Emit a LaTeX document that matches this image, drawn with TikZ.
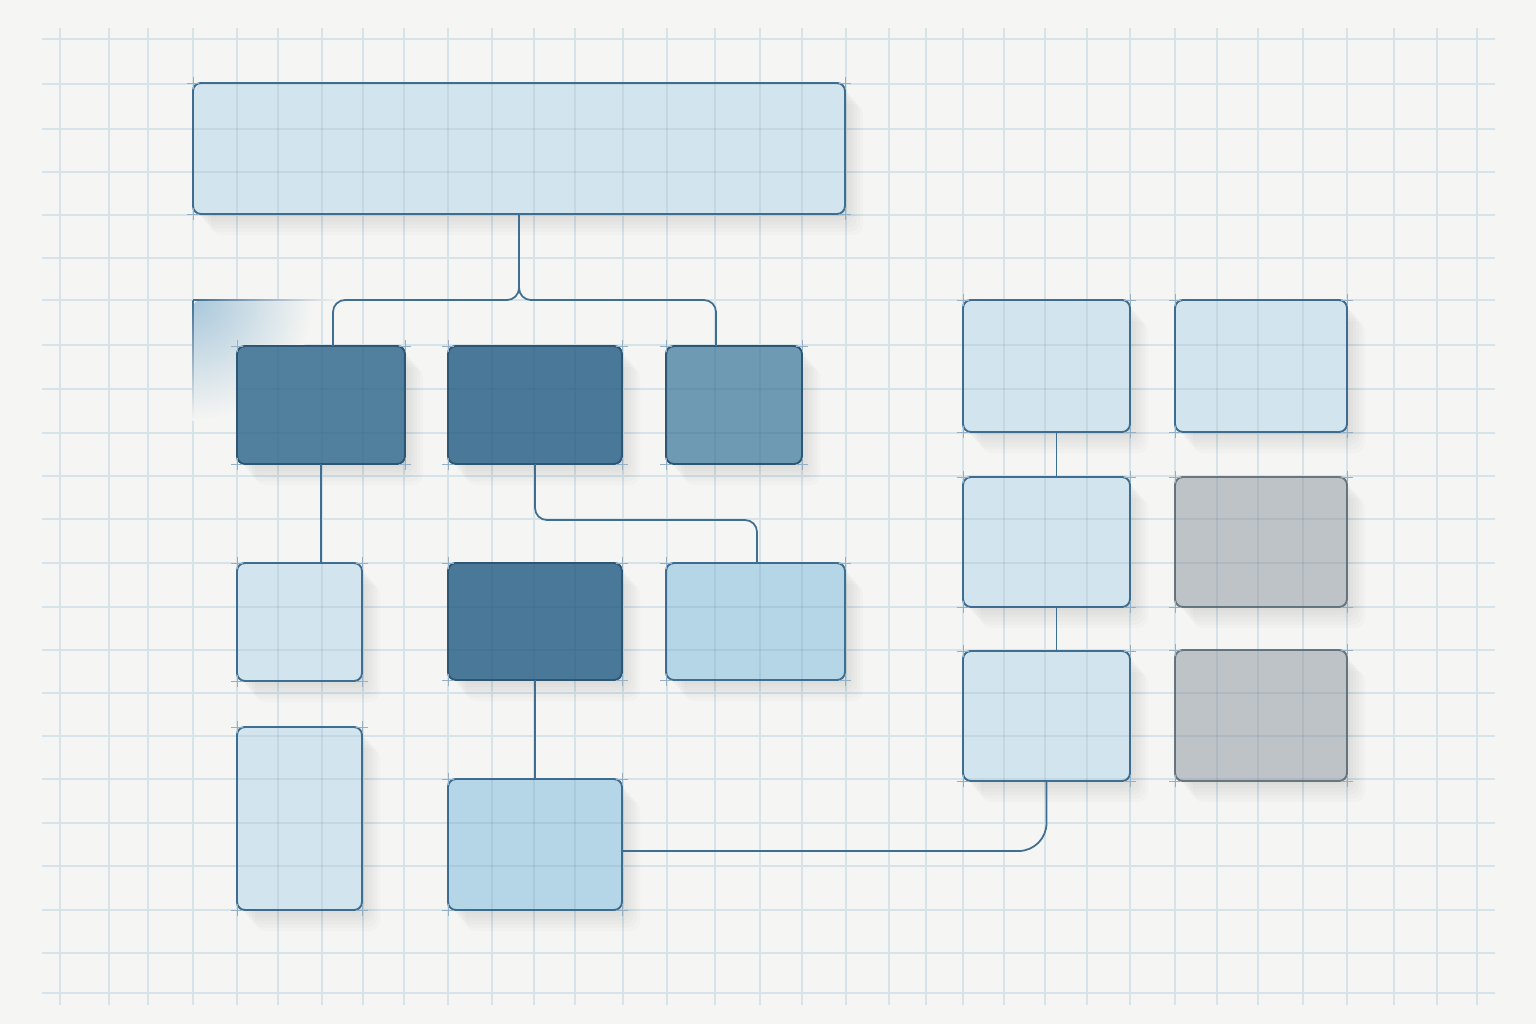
\documentclass[tikz,border=0pt]{standalone}

\definecolor{paper}{HTML}{F5F5F3}
\definecolor{gridcol}{HTML}{D6E4E9}
\definecolor{edge}{HTML}{3F6E93}
\definecolor{darkedge}{HTML}{2D5574}
\definecolor{pale}{HTML}{D2E5EF}
\definecolor{sky}{HTML}{B5D6E7}
\definecolor{deepA}{HTML}{51809F}
\definecolor{deepB}{HTML}{4A7898}
\definecolor{midblue}{HTML}{6E9AB4}
\definecolor{stone}{HTML}{BEC3C7}
\definecolor{stoneedge}{HTML}{69767F}
\definecolor{ghost}{HTML}{A9C8DB}

\pgfdeclarelayer{sheet}
\pgfdeclarelayer{shade}
\pgfsetlayers{sheet,shade,main}

% grid lines at the positions of the sheet
\newcommand\gridpass[1]{%
  \foreach \gx in {0.60,1.09,1.48,1.93,2.37,2.78,3.22,3.63,4.04,4.48,4.92,5.34,5.75,6.23,6.67,7.15,7.60,8.02,8.46,8.89,9.26,9.63,10.04,10.45,10.87,11.30,11.75,12.17,12.58,13.03,13.47,13.94,14.37,14.77}
    \draw[#1] (\gx,0.28) -- (\gx,10.05);
  \foreach \gy in {0.39,0.84,1.29,1.72,2.15,2.58,3.00,3.45,3.89,4.33,4.76,5.19,5.63,6.07,6.50,6.93,7.36,7.79,8.23,8.66,9.10,9.53,9.93}
    \draw[#1] (0.42,\gy) -- (14.95,\gy);
}

\begin{document}
\begin{tikzpicture}[y=-1cm,
  block/.style={draw=edge,line width=0.55pt,rounded corners=0.08cm,inner sep=0pt,outer sep=0pt},
  paleblock/.style={block,fill=pale},
  skyblock/.style={block,fill=sky},
  deepblock/.style={block,draw=darkedge,fill=deepB},
  midblock/.style={block,draw=darkedge,fill=midblue},
  stoneblock/.style={block,draw=stoneedge,fill=stone},
  link/.style={draw=edge,line width=0.5pt,rounded corners=0.12cm},
  cornertick/.style={draw=edge!55,line width=0.25pt},
  gridline/.style={draw=gridcol,line width=0.35pt}]

\useasboundingbox (0,0) rectangle (15.36,10.24);
\begin{pgfonlayer}{sheet}
  \fill[paper] (0,0) rectangle (15.36,10.24);
  \gridpass{gridline}
\end{pgfonlayer}

% faded block behind the first row
\begin{scope}
  \clip[rounded corners=0.08cm] (1.93,3.0) rectangle (3.6,4.6);
  \shade[inner color=ghost,outer color=paper] (1.93,3.0) circle (1.2);
\end{scope}
\shade[left color=edge,right color=paper] (1.93,2.993) rectangle (3.4,3.007);
\shade[top color=edge,bottom color=paper] (1.923,3.0) rectangle (1.937,4.2);

% left tree
\node[paleblock,minimum width=6.52cm,minimum height=1.31cm] (top) at (5.19,1.485) {};

\node[deepblock,fill=deepA,minimum width=1.68cm,minimum height=1.18cm] (a1) at (3.21,4.05) {};
\node[deepblock,minimum width=1.74cm,minimum height=1.18cm] (a2) at (5.35,4.05) {};
\node[midblock,minimum width=1.36cm,minimum height=1.18cm] (a3) at (7.34,4.05) {};

\node[paleblock,minimum width=1.25cm,minimum height=1.18cm] (b1) at (2.995,6.22) {};
\node[deepblock,minimum width=1.74cm,minimum height=1.17cm] (b2) at (5.35,6.215) {};
\node[skyblock,minimum width=1.79cm,minimum height=1.17cm] (b3) at (7.555,6.215) {};

\node[paleblock,minimum width=1.25cm,minimum height=1.83cm] (c1) at (2.995,8.185) {};
\node[skyblock,minimum width=1.74cm,minimum height=1.31cm] (c2) at (5.35,8.445) {};

% right columns
\node[paleblock,minimum width=1.67cm,minimum height=1.32cm] (r1) at (10.465,3.66) {};
\node[paleblock,minimum width=1.67cm,minimum height=1.30cm] (r2) at (10.465,5.42) {};
\node[paleblock,minimum width=1.67cm,minimum height=1.30cm] (r3) at (10.465,7.16) {};

\node[paleblock,minimum width=1.72cm,minimum height=1.32cm] (s1) at (12.61,3.66) {};
\node[stoneblock,minimum width=1.72cm,minimum height=1.30cm] (s2) at (12.61,5.42) {};
\node[stoneblock,minimum width=1.72cm,minimum height=1.31cm] (s3) at (12.61,7.155) {};

% soft shadows to the lower right
\begin{pgfonlayer}{shade}
  \foreach \n in {top,a1,a2,a3,b1,b2,b3,c1,c2,r1,r2,r3,s1,s2,s3}
    \foreach \k in {1,...,6}
      \fill[black,opacity=0.016,rounded corners=0.1cm]
        ([shift={(0.03*\k,0.035*\k)}]\n.north west) rectangle ([shift={(0.03*\k,0.035*\k)}]\n.south east);
\end{pgfonlayer}

% grid showing through the blocks
\begin{scope}
  \clip foreach \n in {top,a1,a2,a3,b1,b2,b3,c1,c2,r1,r2,r3,s1,s2,s3}
    {[rounded corners=0.08cm] (\n.north west) rectangle (\n.south east)};
  \gridpass{draw=darkedge,opacity=0.09,line width=0.35pt}
\end{scope}

% connectors
\draw[link] (top.south) -- ++(0,0.86) -| ([xshift=0.12cm]a1.north);
\draw[link] (top.south) -- ++(0,0.86) -| ([xshift=-0.18cm]a3.north);
\draw[link] (a1.south) -- (a1.south |- b1.north);
\draw[link] (a2.south) -- ++(0,0.56) -| ([xshift=0.015cm]b3.north);
\draw[link] (b2.south) -- (c2.north);
\draw[link,rounded corners=0.28cm] ([yshift=-0.065cm]c2.east) -| (r3.south);
\draw[link] ([xshift=0.1cm]r1.south) -- ([xshift=0.1cm]r2.north);
\draw[link] ([xshift=0.1cm]r2.south) -- ([xshift=0.1cm]r3.north);

% small crosses at the corners
\foreach \n in {top,a1,a2,a3,b1,b2,b3,c1,c2,r1,r2,r3,s1,s2,s3}
  \foreach \c in {north west,north east,south west,south east} {
    \draw[cornertick] ([xshift=-0.06cm]\n.\c) -- ([xshift=0.06cm]\n.\c);
    \draw[cornertick] ([yshift=-0.06cm]\n.\c) -- ([yshift=0.06cm]\n.\c);
  }
\end{tikzpicture}
\end{document}
